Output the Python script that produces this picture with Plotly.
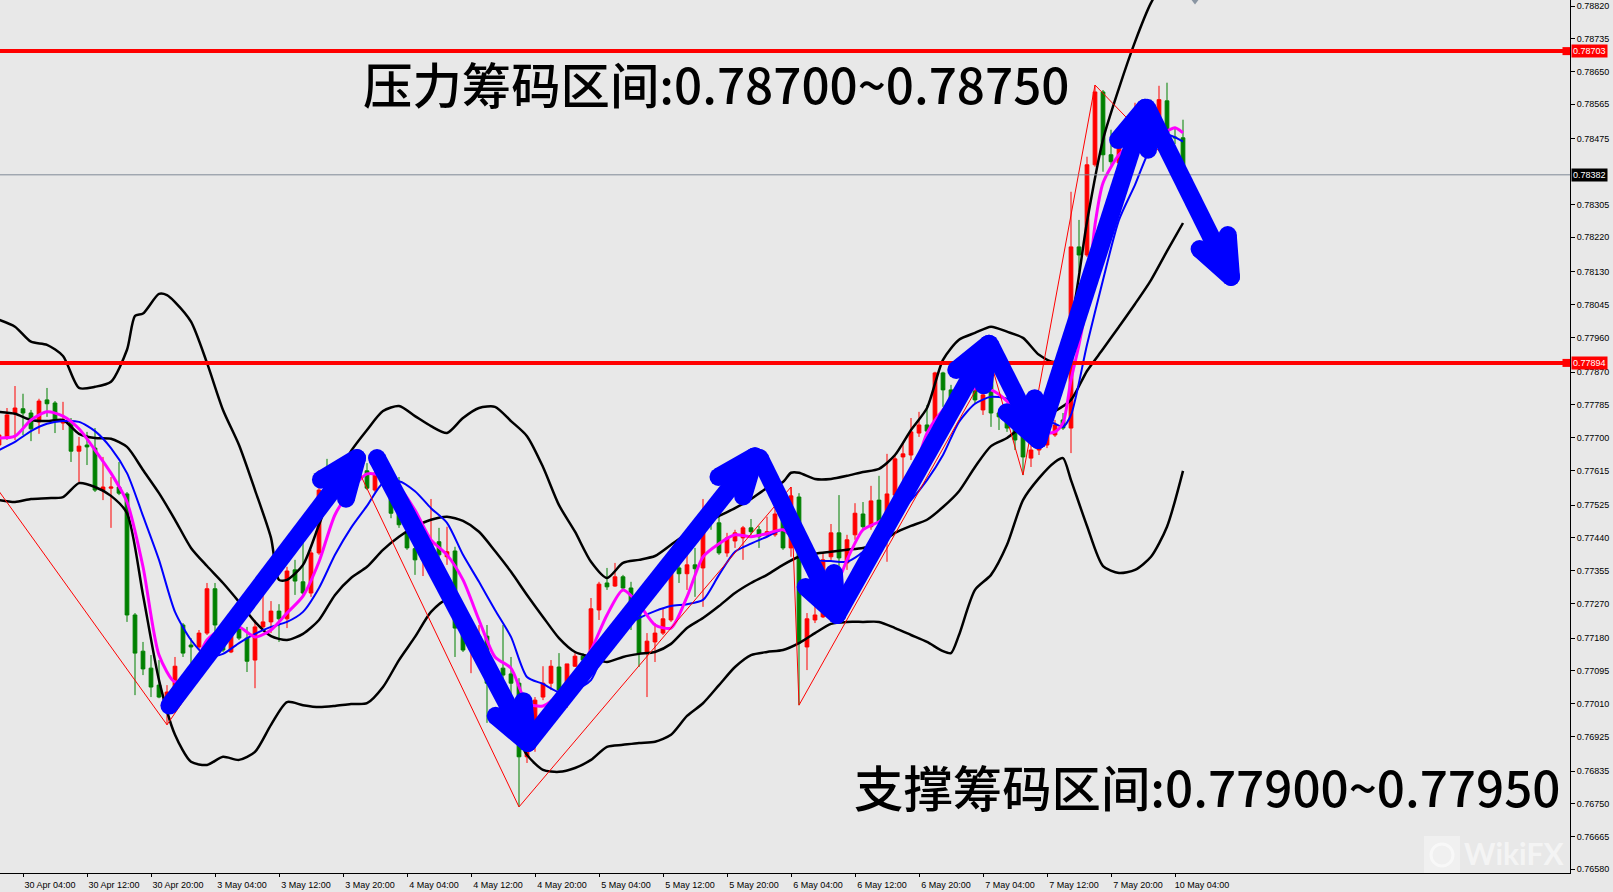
import math
import plotly.graph_objects as go

# ---------------- data ----------------
bar_index = list(range(-3, 146))  # H1 bars, 0 = 30 Apr 04:00

open_ = [0.77681,0.77702,0.77764,0.77775,0.77764,0.77741,0.77798,0.77790,0.77738,0.77741,
0.77665,0.77681,0.77673,0.77564,0.77569,0.77572,0.77554,0.77240,0.77146,0.77102,
0.77058,0.77027,0.77040,0.77214,0.77162,0.77157,0.77193,0.77308,0.77214,0.77144,
0.77209,0.77180,0.77123,0.77209,0.77222,0.77250,0.77230,0.77357,0.77326,0.77297,
0.77401,0.77585,0.77564,0.77603,0.77642,0.77616,0.77614,0.77564,0.77608,0.77582,
0.77504,0.77453,0.77412,0.77383,0.77414,0.77430,0.77391,0.77406,0.77214,0.77149,
0.77154,0.77185,0.77053,0.77102,0.77087,0.77063,0.76872,0.76903,0.77027,0.77063,
0.77105,0.77011,0.77107,0.77133,0.77141,0.77253,0.77323,0.77315,0.77339,0.77310,
0.77245,0.77141,0.77170,0.77193,0.77227,0.77362,0.77347,0.77370,0.77362,0.77482,
0.77479,0.77401,0.77432,0.77440,0.77466,0.77461,0.77448,0.77448,0.77487,0.77414,
0.77546,0.77157,0.77227,0.77235,0.77391,0.77453,0.77375,0.77448,0.77502,0.77469,
0.77538,0.77479,0.77551,0.77650,0.77655,0.77712,0.77733,0.77733,0.77868,0.77824,
0.77793,0.77829,0.77842,0.77772,0.77871,0.77764,0.77754,0.77725,0.77712,0.77647,
0.77668,0.77681,0.77707,0.77746,0.77725,0.78195,0.78174,0.78408,0.78597,0.78434,
0.78413,0.78455,0.78473,0.78564,0.78551,0.78519,0.78574,0.78480,0.78478]
high_ = [0.77715,0.77777,0.77834,0.77814,0.77772,0.77801,0.77829,0.77795,0.77793,0.77751,
0.77702,0.77715,0.77725,0.77650,0.77598,0.77637,0.77559,0.77245,0.77170,0.77136,
0.77123,0.77058,0.77131,0.77219,0.77180,0.77201,0.77323,0.77323,0.77222,0.77240,
0.77227,0.77209,0.77227,0.77297,0.77276,0.77268,0.77365,0.77383,0.77443,0.77409,
0.77616,0.77645,0.77616,0.77650,0.77655,0.77629,0.77634,0.77616,0.77616,0.77590,
0.77598,0.77469,0.77417,0.77427,0.77541,0.77466,0.77469,0.77417,0.77227,0.77206,
0.77214,0.77214,0.77110,0.77214,0.77131,0.77076,0.76911,0.77027,0.77107,0.77123,
0.77141,0.77113,0.77141,0.77141,0.77284,0.77326,0.77362,0.77375,0.77344,0.77326,
0.77248,0.77193,0.77219,0.77258,0.77409,0.77378,0.77401,0.77414,0.77541,0.77495,
0.77495,0.77453,0.77461,0.77471,0.77489,0.77471,0.77495,0.77520,0.77500,0.77572,
0.77556,0.77245,0.77271,0.77401,0.77476,0.77551,0.77448,0.77530,0.77533,0.77575,
0.77601,0.77658,0.77655,0.77689,0.77751,0.77767,0.77785,0.77871,0.77871,0.77837,
0.77837,0.77850,0.77850,0.77819,0.77894,0.77772,0.77762,0.77733,0.77720,0.77686,
0.77694,0.77712,0.77746,0.77764,0.78338,0.78265,0.78429,0.78615,0.78602,0.78499,
0.78473,0.78512,0.78569,0.78577,0.78577,0.78613,0.78621,0.78504,0.78525]
low_ = [0.77673,0.77694,0.77694,0.77707,0.77691,0.77710,0.77754,0.77712,0.77720,0.77637,
0.77585,0.77629,0.77559,0.77538,0.77466,0.77551,0.77222,0.77032,0.77084,0.77027,
0.77024,0.76955,0.77027,0.77131,0.77115,0.77149,0.77188,0.77193,0.77144,0.77141,
0.77175,0.77092,0.77050,0.77206,0.77193,0.77170,0.77206,0.77292,0.77287,0.77287,
0.77396,0.77556,0.77556,0.77595,0.77611,0.77590,0.77564,0.77559,0.77575,0.77491,
0.77466,0.77409,0.77344,0.77341,0.77404,0.77383,0.77370,0.77131,0.77144,0.77089,
0.77136,0.76960,0.77032,0.77053,0.77014,0.76742,0.76856,0.76885,0.77019,0.77045,
0.77027,0.76999,0.77105,0.77118,0.77136,0.77227,0.77305,0.77313,0.77305,0.77201,
0.77105,0.77027,0.77118,0.77188,0.77222,0.77323,0.77305,0.77287,0.77261,0.77461,
0.77396,0.77391,0.77414,0.77383,0.77448,0.77414,0.77443,0.77443,0.77409,0.77391,
0.77006,0.77097,0.77219,0.77232,0.77383,0.77331,0.77357,0.77435,0.77461,0.77461,
0.77474,0.77378,0.77466,0.77546,0.77642,0.77702,0.77712,0.77728,0.77780,0.77772,
0.77785,0.77798,0.77790,0.77759,0.77728,0.77720,0.77715,0.77668,0.77603,0.77624,
0.77655,0.77673,0.77702,0.77720,0.77660,0.78130,0.78169,0.78403,0.78390,0.78408,
0.78408,0.78447,0.78460,0.78543,0.78493,0.78493,0.78486,0.78462,0.78379]
close_ = [0.77707,0.77759,0.77777,0.77764,0.77723,0.77795,0.77788,0.77743,0.77746,0.77665,
0.77678,0.77676,0.77564,0.77572,0.77572,0.77556,0.77240,0.77141,0.77100,0.77053,
0.77027,0.77040,0.77107,0.77141,0.77157,0.77193,0.77308,0.77214,0.77149,0.77196,
0.77180,0.77120,0.77209,0.77222,0.77250,0.77230,0.77354,0.77328,0.77297,0.77401,
0.77564,0.77564,0.77603,0.77637,0.77616,0.77598,0.77569,0.77608,0.77582,0.77504,
0.77474,0.77414,0.77383,0.77404,0.77430,0.77396,0.77404,0.77206,0.77149,0.77188,
0.77185,0.77063,0.77084,0.77084,0.77063,0.76872,0.76903,0.77019,0.77063,0.77107,
0.77045,0.77113,0.77133,0.77123,0.77256,0.77320,0.77313,0.77339,0.77310,0.77274,
0.77141,0.77172,0.77193,0.77230,0.77352,0.77347,0.77370,0.77360,0.77456,0.77479,
0.77401,0.77440,0.77453,0.77466,0.77456,0.77443,0.77456,0.77502,0.77414,0.77549,
0.77167,0.77230,0.77240,0.77383,0.77453,0.77388,0.77435,0.77504,0.77469,0.77536,
0.77482,0.77554,0.77645,0.77658,0.77715,0.77733,0.77717,0.77868,0.77824,0.77793,
0.77824,0.77811,0.77798,0.77811,0.77764,0.77754,0.77725,0.77694,0.77650,0.77668,
0.77681,0.77707,0.77733,0.77725,0.78195,0.78174,0.78408,0.78597,0.78434,0.78416,
0.78455,0.78486,0.78545,0.78551,0.78519,0.78577,0.78491,0.78478,0.78382]

tick_index = list(range(0, 145, 8))
tick_text = ["30 Apr 04:00", "30 Apr 12:00", "30 Apr 20:00", "3 May 04:00", "3 May 12:00",
             "3 May 20:00", "4 May 04:00", "4 May 12:00", "4 May 20:00", "5 May 04:00",
             "5 May 12:00", "5 May 20:00", "6 May 04:00", "6 May 12:00", "6 May 20:00",
             "7 May 04:00", "7 May 12:00", "7 May 20:00", "10 May 04:00"]

# (the 0.78390 tick sits under the current-price label in the reference, so it is left out)
price_ticks = [0.78820, 0.78735, 0.78650, 0.78565, 0.78475, 0.78305, 0.78220, 0.78130,
               0.78045, 0.77960, 0.77870, 0.77785, 0.77700, 0.77615, 0.77525, 0.77440, 0.77355,
               0.77270, 0.77180, 0.77095, 0.77010, 0.76925, 0.76835, 0.76750, 0.76665, 0.76580]

# Bollinger band (upper / middle / lower)
upper_x = [-3,-1,1,3,5,7,9,11,13,14,15,17,18,19,21,23,25,27,29,31,32,33,
           35,37,39,41,43,45,47,49,51,53,55,57,59,61,63,65,67,69,71,73,75,77,79,81,83,85,87,89,91,93,95,
           96,97,99,101,103,105,107,109,111,113,115,117,119,121,123,125,127,129,131,133,135,137,139,141,143,145]
upper_y = [0.78006,0.77988,0.77949,0.77941,0.77912,0.77829,0.77832,0.77845,0.77928,0.78016,0.78022,
           0.78073,0.78070,0.78052,0.78001,0.77894,0.77772,0.77681,0.77564,0.77440,0.77331,0.77331,
           0.77370,0.77474,0.77585,0.77665,0.77720,0.77769,0.77782,0.77756,0.77730,0.77712,0.77751,
           0.77777,0.77780,0.77743,0.77704,0.77624,0.77525,0.77456,0.77378,0.77336,0.77375,0.77383,
           0.77393,0.77422,0.77451,0.77474,0.77497,0.77517,0.77541,0.77569,0.77585,
           0.77609,0.77609,0.77593,0.77593,0.77601,0.77611,0.77619,0.77655,0.77720,0.77777,0.77902,
           0.77954,0.77972,0.77988,0.77975,0.77959,0.77915,0.77897,0.78001,0.78260,0.78473,0.78607,
           0.78727,0.78828,0.78893,0.78901]

middle_x = list(range(-3, 146, 2))
middle_y = [0.77767,0.77762,0.77746,0.77743,0.77746,0.77710,0.77699,0.77697,0.77676,0.77616,
            0.77556,0.77487,0.77414,0.77367,0.77323,0.77274,0.77222,0.77185,0.77175,0.77191,
            0.77227,0.77292,0.77336,0.77365,0.77409,0.77443,0.77469,0.77487,0.77495,0.77484,
            0.77456,0.77406,0.77352,0.77292,0.77235,0.77180,0.77144,0.77131,0.77118,0.77131,
            0.77139,0.77144,0.77165,0.77206,0.77232,0.77263,0.77297,0.77323,0.77344,0.77370,
            0.77391,0.77399,0.77404,0.77409,0.77414,0.77425,0.77453,0.77471,0.77487,0.77520,
            0.77561,0.77624,0.77678,0.77699,0.77730,0.77751,0.77769,0.77798,0.77873,0.77930,
            0.77988,0.78047,0.78109,0.78184,0.78257]

lower_x = list(range(-3, 116, 2)) + [116, 117, 119, 121, 123, 125, 127, 129, 130, 131,
                                      133, 135, 137, 139, 141, 143, 145]
lower_y = [0.77538,0.77533,0.77541,0.77543,0.77546,0.77582,0.77572,0.77549,0.77504,0.77292,
           0.77071,0.76929,0.76859,0.76851,0.76872,0.76864,0.76885,0.76955,0.77014,0.77006,
           0.77001,0.77004,0.77009,0.77011,0.77053,0.77123,0.77183,0.77248,0.77279,0.77214,
           0.77136,0.77040,0.76962,0.76877,0.76838,0.76833,0.76843,0.76864,0.76898,0.76903,
           0.76908,0.76911,0.76929,0.76978,0.77011,0.77058,0.77105,0.77136,0.77144,0.77149,
           0.77167,0.77193,0.77217,0.77222,0.77222,0.77222,0.77206,0.77188,0.77170,0.77146,
           0.77141,0.77188,0.77305,0.77344,0.77422,0.77538,0.77595,0.77637,0.77647,0.77590,
           0.77471,0.77367,0.77349,0.77357,0.77391,0.77469,0.77614]

# fast moving average (magenta)
ma_fast_x = list(range(-3, 102, 2)) + [102, 103, 105, 107, 109, 111, 113, 115, 117, 119, 121,
                                        123, 125, 127, 129, 130, 131, 132, 133, 134, 135, 137,
                                        139, 141, 143, 144, 145]
ma_fast_y = [0.77699,0.77704,0.77746,0.77767,0.77756,0.77723,0.77668,0.77608,0.77533,0.77365,
             0.77136,0.77066,0.77092,0.77175,0.77206,0.77209,0.77183,0.77201,0.77245,0.77289,
             0.77378,0.77500,0.77564,0.77606,0.77601,0.77572,0.77512,0.77435,0.77396,0.77331,
             0.77227,0.77131,0.77102,0.77011,0.77004,0.77035,0.77084,0.77149,0.77240,0.77305,
             0.77268,0.77214,0.77206,0.77287,0.77391,0.77425,0.77448,0.77443,0.77451,0.77461,
             0.77422,0.77357,0.77323,
             0.77336,0.77383,0.77461,0.77482,0.77510,0.77585,0.77712,0.77772,0.77814,0.77827,
             0.77824,0.77795,0.77746,0.77712,0.77715,0.77738,0.77850,0.77941,0.78057,0.78252,
             0.78361,0.78434,0.78468,0.78483,0.78496,0.78504,0.78491]

# slow moving average (blue)
ma_slow_x = list(range(-3, 130, 2)) + [130, 131, 133, 135, 137, 139, 141, 143, 145]
ma_slow_y = [0.77668,0.77689,0.77717,0.77736,0.77743,0.77741,0.77717,0.77673,0.77608,0.77497,
             0.77383,0.77248,0.77175,0.77133,0.77139,0.77167,0.77191,0.77209,0.77222,0.77248,
             0.77310,0.77396,0.77466,0.77523,0.77582,0.77587,0.77561,0.77517,0.77479,0.77396,
             0.77326,0.77253,0.77183,0.77079,0.77061,0.77040,0.77045,0.77071,0.77162,0.77209,
             0.77232,0.77250,0.77263,0.77268,0.77279,0.77344,0.77404,0.77425,0.77443,0.77461,
             0.77414,0.77383,0.77380,0.77378,0.77404,0.77466,0.77497,0.77538,0.77590,0.77655,
             0.77741,0.77788,0.77806,0.77801,0.77772,0.77754,0.77736,
             0.77728,0.77759,0.77941,0.78109,0.78265,0.78356,0.78452,0.78486,0.78468]

# ZigZag pivots
zigzag_x = [-3, 18, 41, 62, 96, 97, 121, 125, 134, 145]
zigzag_y = [0.77561, 0.76955, 0.77655, 0.76742, 0.77572, 0.77006, 0.77894, 0.77603, 0.78615, 0.78379]

# horizontal levels
level_prices = [0.78703, 0.77894]
current_price = 0.78382

# hand-drawn arrows (start bar, start price, end bar, end price)
arrow_x0 = [18.3, 44.25, 63.1, 92.1, 101.75, 120.9, 126.9, 140.5]
arrow_y0 = [0.77005, 0.77647, 0.76908, 0.77647, 0.77240, 0.77941, 0.77694, 0.78556]
arrow_x1 = [41.75, 63.1, 91.5, 101.75, 120.75, 126.9, 140.25, 151.0]
arrow_y1 = [0.77647, 0.76908, 0.77652, 0.77240, 0.77944, 0.77694, 0.78556, 0.78117]

text_top = "压力筹码区间:0.78700~0.78750"
text_bottom = "支撑筹码区间:0.77900~0.77950"

# ---------------- layout geometry ----------------
W, H = 1613, 892
ML, MR, MT, MB = 0, 43, 0, 19
PW, PH = W - ML - MR, H - MT - MB
X0, X1 = -2.875, 193.375
Y0, Y1 = 0.765705, 0.788356
sx = PW / (X1 - X0)
sy = PH / (Y1 - Y0)

BG = "#e8e8e8"
CJK = "Noto Sans CJK SC"
TICKFONT = dict(family="Liberation Sans, Arial, sans-serif", size=9, color="black")
BIG = 49.4

fig = go.Figure()

fig.add_trace(go.Candlestick(
    x=bar_index, open=open_, high=high_, low=low_, close=close_,
    increasing=dict(line=dict(color="#ff0000", width=1), fillcolor="#ff0000"),
    decreasing=dict(line=dict(color="#008000", width=1), fillcolor="#008000"),
    whiskerwidth=0, hoverinfo="skip", showlegend=False))

for bx, by in ((upper_x, upper_y), (middle_x, middle_y), (lower_x, lower_y)):
    fig.add_trace(go.Scatter(x=bx, y=by, mode="lines",
                             line=dict(color="black", width=2.5, shape="spline", smoothing=0.7),
                             hoverinfo="skip", showlegend=False))

fig.add_trace(go.Scatter(x=ma_slow_x, y=ma_slow_y, mode="lines",
                         line=dict(color="#0000ff", width=2, shape="spline", smoothing=0.7),
                         hoverinfo="skip", showlegend=False))
fig.add_trace(go.Scatter(x=ma_fast_x, y=ma_fast_y, mode="lines",
                         line=dict(color="#ff00ff", width=3, shape="spline", smoothing=0.7),
                         hoverinfo="skip", showlegend=False))

fig.add_trace(go.Scatter(x=zigzag_x, y=zigzag_y, mode="lines",
                         line=dict(color="#ff0000", width=1), hoverinfo="skip", showlegend=False))

# current price line
fig.add_trace(go.Scatter(x=[X0, X1], y=[current_price, current_price], mode="lines",
                         line=dict(color="#7f8a96", width=1), hoverinfo="skip", showlegend=False))
# red level lines
for lp in level_prices:
    fig.add_trace(go.Scatter(x=[X0, X1], y=[lp, lp], mode="lines",
                             line=dict(color="#ff0000", width=4), hoverinfo="skip", showlegend=False))
    fig.add_trace(go.Scatter(x=[X1 - 3.5 / sx], y=[lp], mode="markers",
                             marker=dict(symbol="square", size=8, color="#ff0000"),
                             cliponaxis=False, hoverinfo="skip", showlegend=False))

# arrows
AW = 18
ARM = 42
ANG = 22
for xa, ya, xb, yb in zip(arrow_x0, arrow_y0, arrow_x1, arrow_y1):
    dx = (xb - xa) * sx
    dy = (yb - ya) * sy
    L = math.hypot(dx, dy)
    ux, uy = -dx / L, -dy / L
    ends = []
    for a in (ANG, -ANG):
        r = math.radians(a)
        vx = ux * math.cos(r) - uy * math.sin(r)
        vy = ux * math.sin(r) + uy * math.cos(r)
        ends.append((xb + vx * ARM / sx, yb + vy * ARM / sy))
    fig.add_trace(go.Scatter(x=[xa, xb], y=[ya, yb], mode="lines+markers",
                             line=dict(color="#0000ff", width=AW),
                             marker=dict(color="#0000ff", size=AW),
                             cliponaxis=False, hoverinfo="skip", showlegend=False))
    fig.add_trace(go.Scatter(x=[ends[0][0], xb, ends[1][0]], y=[ends[0][1], yb, ends[1][1]],
                             mode="lines+markers",
                             line=dict(color="#0000ff", width=AW),
                             marker=dict(color="#0000ff", size=AW),
                             cliponaxis=False, hoverinfo="skip", showlegend=False))

# chart shift marker at top
fig.add_trace(go.Scatter(x=[X0 + 1195 / sx], y=[Y1], mode="markers",
                         marker=dict(symbol="triangle-down", size=9, color="#8a96a3"),
                         cliponaxis=False, hoverinfo="skip", showlegend=False))

annotations = [
    dict(text=text_top, x=715.5 / PW, y=1 - 82 / PH, xref="paper", yref="paper",
         xanchor="center", yanchor="middle", showarrow=False,
         font=dict(family=CJK, size=BIG, color="black", weight=500)),
    dict(text=text_bottom, x=1562 / PW, y=1 - 785 / PH, xref="paper", yref="paper",
         xanchor="right", yanchor="middle", showarrow=False,
         font=dict(family=CJK, size=BIG, color="black", weight=500)),
    dict(text="WikiFX", x=1566 / PW, y=1 - 853 / PH, xref="paper", yref="paper",
         xanchor="right", yanchor="middle", showarrow=False,
         font=dict(family="Lato, Open Sans, sans-serif", size=30, color="rgba(255,255,255,0.55)",
                   weight="bold")),
]
for lp in level_prices:
    annotations.append(dict(text=f"{lp:.5f}", x=1, y=lp, xref="paper", yref="y",
                            xanchor="left", yanchor="middle", showarrow=False, xshift=1,
                            bgcolor="#ff0000", borderpad=1,
                            font=dict(family="Liberation Sans, Arial", size=9, color="white")))
annotations.append(dict(text=f"{current_price:.5f}", x=1, y=current_price, xref="paper", yref="y",
                        xanchor="left", yanchor="middle", showarrow=False, xshift=1,
                        bgcolor="#000000", borderpad=1,
                        font=dict(family="Liberation Sans, Arial", size=9, color="white")))

shapes = [
    dict(type="rect", xref="paper", yref="paper",
         x0=1424 / PW, x1=1460 / PW, y0=1 - 873 / PH, y1=1 - 836 / PH,
         fillcolor="rgba(255,255,255,0.35)", line=dict(width=0), layer="above"),
    dict(type="circle", xref="paper", yref="paper",
         x0=1431 / PW, x1=1453 / PW, y0=1 - 866 / PH, y1=1 - 844 / PH,
         line=dict(color="rgba(255,255,255,0.55)", width=3), layer="above"),
]

fig.update_layout(
    width=W, height=H,
    margin=dict(l=ML, r=MR, t=MT, b=MB, pad=0),
    paper_bgcolor=BG, plot_bgcolor=BG,
    showlegend=False, boxgap=0.34,
    annotations=annotations, shapes=shapes,
    xaxis=dict(range=[X0, X1], rangeslider=dict(visible=False), tickmode="array",
               tickvals=tick_index, ticktext=tick_text, ticks="outside", ticklen=3,
               tickcolor="black", showline=True, linecolor="black", linewidth=1, mirror=True,
               showgrid=False, zeroline=False, tickfont=TICKFONT, ticklabelshift=27),
    yaxis=dict(range=[Y0, Y1], side="right", tickmode="array", tickvals=price_ticks,
               ticktext=[f"{v:.5f}" for v in price_ticks], ticks="outside", ticklen=4,
               tickcolor="black", showline=True, linecolor="black", linewidth=1,
               showgrid=False, zeroline=False, tickfont=TICKFONT),
)

fig.write_html("out.html", config={"displayModeBar": False},
               post_script="document.body.style.margin='0px';")
